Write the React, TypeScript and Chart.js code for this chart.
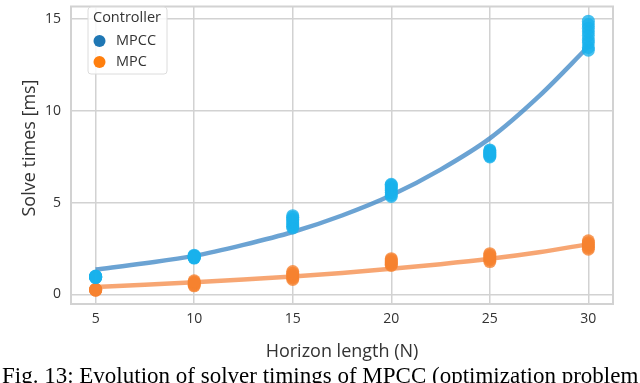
import React, { useEffect, useRef } from "react";
import { Chart, registerables } from "chart.js";

Chart.register(...registerables);

const horizons = [5, 10, 15, 20, 25, 30];
const xTicks = [5, 10, 15, 20, 25, 30];
const yTicks = [0, 5, 10, 15];

const mpccTimes = [
  [0.92, 0.94, 0.95, 0.97, 0.99, 1.0, 0.96, 0.93],
  [1.98, 2.01, 2.05, 2.08, 2.1, 2.14, 2.0, 2.06],
  [3.62, 3.7, 3.78, 3.9, 4.02, 4.1, 4.2, 4.29],
  [5.34, 5.42, 5.55, 5.66, 5.74, 5.86, 5.95, 6.0],
  [7.49, 7.54, 7.6, 7.66, 7.71, 7.76, 7.82, 7.87],
  [13.3, 13.45, 13.7, 13.85, 14.1, 14.3, 14.5, 14.7, 14.88],
];

const mpcTimes = [
  [0.23, 0.24, 0.25, 0.26, 0.27, 0.28],
  [0.47, 0.52, 0.58, 0.63, 0.68, 0.74],
  [0.82, 0.9, 0.98, 1.06, 1.15, 1.25],
  [1.58, 1.65, 1.72, 1.8, 1.88, 1.95],
  [1.79, 1.88, 1.96, 2.05, 2.14, 2.22],
  [2.46, 2.55, 2.64, 2.73, 2.82, 2.92],
];

const fitN = [5, 7.5, 10, 12.5, 15, 17.5, 20, 22.5, 25, 27.5, 30];
const mpccFit = [1.36, 1.7, 2.1, 2.7, 3.4, 4.3, 5.4, 6.8, 8.5, 10.8, 13.5];
const mpcFit = [0.41, 0.53, 0.67, 0.82, 0.98, 1.17, 1.4, 1.65, 1.94, 2.3, 2.74];

const seriesNames = ["MPCC", "MPC"];
const legendTitle = "Controller";
const xTitle = "Horizon length (N)";
const yTitle = "Solve times [ms]";
const caption = "Fig. 13: Evolution of solver timings of MPCC (optimization problem";

const FONT = "'Open Sans', 'Noto Sans', sans-serif";
const TEXT = "#333333";
const GRID = "#d2d2d2";
const MPCC_PT = "rgba(25,178,236,0.8)";
const MPC_PT = "rgba(246,130,48,0.8)";
const MPCC_LINE = "rgba(70,140,200,0.8)";
const MPC_LINE = "rgba(246,150,90,0.85)";
const MPCC_LEG = "#1f77b4";
const MPC_LEG = "#ff7f0e";

function toPoints(groups: number[][]) {
  const pts: { x: number; y: number }[] = [];
  groups.forEach((g, i) => g.forEach((v) => pts.push({ x: horizons[i], y: v })));
  return pts;
}

const decorPlugin = {
  id: "decor",
  beforeDatasetsDraw(chart: any) {
    const { ctx, chartArea } = chart;
    ctx.save();
    ctx.strokeStyle = GRID;
    ctx.lineWidth = 2;
    ctx.strokeRect(chartArea.left, chartArea.top, chartArea.right - chartArea.left, chartArea.bottom - chartArea.top);
    ctx.restore();
  },
  afterDraw(chart: any) {
    const { ctx } = chart;
    ctx.save();
    // y axis title
    ctx.save();
    ctx.translate(30, 148);
    ctx.rotate(-Math.PI / 2);
    ctx.font = `18px ${FONT}`;
    ctx.fillStyle = TEXT;
    ctx.textAlign = "center";
    ctx.textBaseline = "middle";
    ctx.fillText(yTitle, 0, 0);
    ctx.restore();

    // legend box
    const bx = 88, by = 7, bw = 79, bh = 67, r = 3;
    ctx.beginPath();
    ctx.moveTo(bx + r, by);
    ctx.lineTo(bx + bw - r, by);
    ctx.quadraticCurveTo(bx + bw, by, bx + bw, by + r);
    ctx.lineTo(bx + bw, by + bh - r);
    ctx.quadraticCurveTo(bx + bw, by + bh, bx + bw - r, by + bh);
    ctx.lineTo(bx + r, by + bh);
    ctx.quadraticCurveTo(bx, by + bh, bx, by + bh - r);
    ctx.lineTo(bx, by + r);
    ctx.quadraticCurveTo(bx, by, bx + r, by);
    ctx.closePath();
    ctx.fillStyle = "rgba(255,255,255,0.85)";
    ctx.fill();
    ctx.strokeStyle = "#dcdcdc";
    ctx.lineWidth = 1;
    ctx.stroke();

    ctx.fillStyle = TEXT;
    ctx.textBaseline = "middle";
    ctx.textAlign = "left";
    ctx.font = `14.5px ${FONT}`;
    ctx.fillText(legendTitle, 93, 18);
    const cols = [MPCC_LEG, MPC_LEG];
    const ys = [41, 62];
    seriesNames.forEach((n, i) => {
      ctx.beginPath();
      ctx.arc(99.5, ys[i], 6, 0, Math.PI * 2);
      ctx.fillStyle = cols[i];
      ctx.fill();
      ctx.fillStyle = TEXT;
      ctx.fillText(n, 116, ys[i]);
    });

    // caption
    ctx.font = "23px 'Liberation Serif', 'Times New Roman', serif";
    ctx.fillStyle = "#000";
    ctx.textBaseline = "alphabetic";
    ctx.fillText(caption, 2, 383);
    ctx.restore();
  },
};

export default function App() {
  const ref = useRef<HTMLCanvasElement | null>(null);
  useEffect(() => {
    document.body.style.margin = "0";
    const canvas = ref.current!;
    const chart = new Chart(canvas, {
      type: "scatter",
      data: {
        datasets: [
          {
            label: "MPCC",
            data: toPoints(mpccTimes),
            backgroundColor: MPCC_PT,
            borderWidth: 0,
            pointRadius: 6.5,
            order: 1,
          },
          {
            label: "MPC",
            data: toPoints(mpcTimes),
            backgroundColor: MPC_PT,
            borderWidth: 0,
            pointRadius: 6.5,
            order: 1,
          },
          {
            type: "line",
            label: "MPCC fit",
            data: fitN.map((n, i) => ({ x: n, y: mpccFit[i] })),
            borderColor: MPCC_LINE,
            borderWidth: 4.5,
            pointRadius: 0,
            cubicInterpolationMode: "monotone",
            fill: false,
            order: 2,
          } as any,
          {
            type: "line",
            label: "MPC fit",
            data: fitN.map((n, i) => ({ x: n, y: mpcFit[i] })),
            borderColor: MPC_LINE,
            borderWidth: 4.5,
            pointRadius: 0,
            cubicInterpolationMode: "monotone",
            fill: false,
            order: 2,
          } as any,
        ],
      },
      options: {
        responsive: false,
        animation: false,
        devicePixelRatio: 1,
        layout: { padding: { top: 3, right: 27, left: 0, bottom: 0 } },
        plugins: { legend: { display: false }, tooltip: { enabled: false } },
        scales: {
          x: {
            type: "linear",
            min: 3.75,
            max: 31.25,
            afterBuildTicks: (s: any) => {
              s.ticks = xTicks.map((v) => ({ value: v }));
            },
            afterFit: (s: any) => {
              s.height = 79;
              s.paddingLeft = 0;
              s.paddingRight = 0;
            },
            grid: { color: GRID, lineWidth: 1.5, drawTicks: false },
            border: { display: false },
            ticks: { color: TEXT, font: { family: FONT, size: 14 }, padding: 7 },
            title: {
              display: true,
              text: xTitle,
              color: TEXT,
              font: { family: FONT, size: 18 },
              padding: { top: 0, bottom: 20 },
            },
          },
          y: {
            type: "linear",
            min: -0.52,
            max: 15.68,
            afterBuildTicks: (s: any) => {
              s.ticks = yTicks.map((v) => ({ value: v }));
            },
            afterFit: (s: any) => {
              s.width = 71;
              s.paddingTop = 0;
              s.paddingBottom = 0;
            },
            grid: { color: GRID, lineWidth: 1.5, drawTicks: false },
            border: { display: false },
            ticks: { color: TEXT, font: { family: FONT, size: 14 }, padding: 10 },
          },
        },
      },
      plugins: [decorPlugin],
    });
    return () => chart.destroy();
  }, []);
  return <canvas ref={ref} width={640} height={383} style={{ display: "block" }} />;
}
